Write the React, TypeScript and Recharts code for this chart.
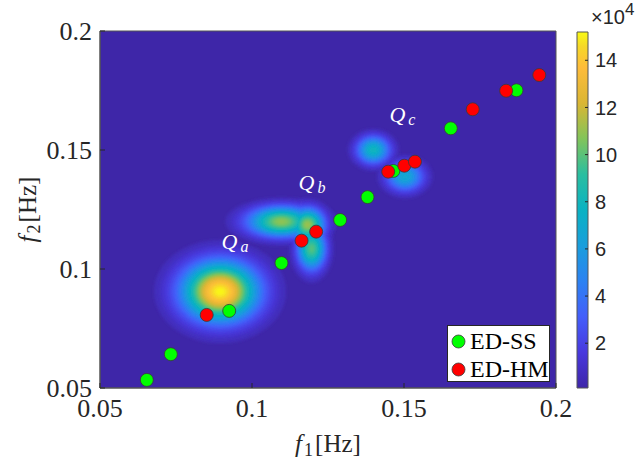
import React from 'react'
import { ScatterChart, ComposedChart, Scatter, XAxis, YAxis, ReferenceArea, Legend, Label } from 'recharts'

// axis ticks
const xTicks = [0.05, 0.1, 0.15, 0.2]
const yTicks = [0.05, 0.1, 0.15, 0.2]
const barTicks = [2, 4, 6, 8, 10, 12, 14]
const barRange = [0.1, 15.2] // colour scale, x10^4

// identified modes
const edSS = [
  { x: 0.0654, y: 0.0534 },
  { x: 0.0733, y: 0.0642 },
  { x: 0.0925, y: 0.0824 },
  { x: 0.1097, y: 0.1025 },
  { x: 0.129, y: 0.1206 },
  { x: 0.138, y: 0.1302 },
  { x: 0.1465, y: 0.1412 },
  { x: 0.1654, y: 0.1591 },
  { x: 0.187, y: 0.1751 },
]
const edHM = [
  { x: 0.0851, y: 0.0807 },
  { x: 0.1163, y: 0.1119 },
  { x: 0.1211, y: 0.1157 },
  { x: 0.1448, y: 0.1409 },
  { x: 0.1501, y: 0.1434 },
  { x: 0.1536, y: 0.1451 },
  { x: 0.1726, y: 0.1671 },
  { x: 0.1836, y: 0.1749 },
  { x: 0.1945, y: 0.1815 },
]

// background intensity peaks (centre, spread, peak value x10^4)
const peaks = [
  { x: 0.0895, y: 0.0905, sx: 0.0083, sy: 0.0083, peak: 15.2 },
  { x: 0.1097, y: 0.1199, sx: 0.0074, sy: 0.0041, peak: 11 },
  { x: 0.1183, y: 0.1186, sx: 0.0036, sy: 0.0045, peak: 11.2 },
  { x: 0.1196, y: 0.1085, sx: 0.003, sy: 0.0059, peak: 10 },
  { x: 0.1399, y: 0.15, sx: 0.0036, sy: 0.0038, peak: 8 },
  { x: 0.1503, y: 0.1388, sx: 0.004, sy: 0.004, peak: 7 },
]

const modeLabels = [
  { x: 0.09, y: 0.1084, sub: 'a' },
  { x: 0.1153, y: 0.1332, sub: 'b' },
  { x: 0.1452, y: 0.1618, sub: 'c' },
]

const legendOrder = ['ED-SS', 'ED-HM']

const SERIF = '"Liberation Serif", "Times New Roman", serif'
const SANS = '"Liberation Sans", Arial, sans-serif'
const INK = '#262626'

const PLOT_W = 456
const PLOT_H = 357
const PX_X = PLOT_W / (xTicks[3] - xTicks[0])
const PX_Y = PLOT_H / (yTicks[3] - yTicks[0])

const PARULA: [number, number[]][] = [
  [0, [62, 38, 168]],
  [0.1, [72, 56, 222]],
  [0.2, [68, 94, 250]],
  [0.3, [44, 130, 242]],
  [0.4, [25, 158, 220]],
  [0.5, [10, 178, 195]],
  [0.6, [42, 190, 160]],
  [0.7, [130, 196, 90]],
  [0.8, [218, 182, 52]],
  [0.9, [254, 188, 58]],
  [0.96, [246, 216, 40]],
  [1, [249, 251, 21]],
]

function parula(t: number) {
  const v = Math.max(0, Math.min(1, t))
  for (let i = 1; i < PARULA.length; i++) {
    const [t1, c1] = PARULA[i]
    const [t0, c0] = PARULA[i - 1]
    if (v <= t1) {
      const f = (v - t0) / (t1 - t0)
      const c = c0.map((a, k) => Math.round(a + (c1[k] - a) * f))
      return `rgb(${c[0]},${c[1]},${c[2]})`
    }
  }
  return 'rgb(249,251,21)'
}

const toT = (v: number) => (v - barRange[0]) / (barRange[1] - barRange[0])

// contour levels of the intensity map, drawn low to high
const STEP = 0.4
const levels: number[] = []
for (let l = 0.5; l < barRange[1]; l += STEP) levels.push(l)

const heatCells = levels.flatMap((level) =>
  peaks.filter((p) => p.peak > level).map((p) => ({ ...p, level }))
)

const HeatShape = (props: any) => {
  const { cx, cy, payload } = props
  const k = Math.sqrt(2 * Math.log(payload.peak / payload.level))
  const rx = payload.sx * PX_X * k
  const ry = payload.sy * PX_Y * k
  const c = parula(toT(Math.min(payload.level + STEP / 2, payload.peak)))
  return <ellipse cx={cx} cy={cy} rx={rx} ry={ry} fill={c} filter="url(#soften)" />
}

const Dot = (props: any) => (
  <circle cx={props.cx} cy={props.cy} r={6.5} fill={props.fill} stroke="#3a3a3a" strokeWidth={0.8} />
)

const ModeLabel = (props: any) => (
  <text x={props.cx} y={props.cy} fill="#ffffff" fontFamily={SERIF} fontStyle="italic" fontSize={22}>
    Q
    <tspan fontSize={16} dx={3} dy={3}>
      {props.payload.sub}
    </tspan>
  </text>
)

const XTick = (props: any) => {
  const { x, y, payload } = props
  return (
    <g>
      <line x1={x} x2={x} y1={y - 11} y2={y - 16} stroke={INK} />
      <text x={x} y={y} dy="0.71em" textAnchor="middle" fill={INK} fontFamily={SERIF} fontSize={26}>
        {payload.value}
      </text>
    </g>
  )
}

const YTick = (props: any) => {
  const { x, y, payload } = props
  return (
    <g>
      <line x1={x + 8} x2={x + 13} y1={y} y2={y} stroke={INK} />
      <text x={x} y={y} dy="0.355em" textAnchor="end" fill={INK} fontFamily={SERIF} fontSize={26}>
        {payload.value}
      </text>
    </g>
  )
}

const BarTick = (props: any) => {
  const { x, y, payload } = props
  return (
    <g>
      <line x1={x - 7} x2={x - 10} y1={y} y2={y} stroke={INK} />
      <text x={x} y={y} dy="0.355em" fill={INK} fontFamily={SANS} fontSize={20}>
        {payload.value}
      </text>
    </g>
  )
}

const XTitle = ({ viewBox }: any) => (
  <text x={viewBox.x + viewBox.width / 2} y={viewBox.y + 64} textAnchor="middle" fill={INK} fontFamily={SERIF} fontSize={25}>
    <tspan fontStyle="italic">f</tspan>
    <tspan fontSize={18} dx={2} dy={4}>1</tspan>
    <tspan dx={2} dy={-4}>[Hz]</tspan>
  </text>
)

const YTitle = ({ viewBox }: any) => {
  const x = viewBox.x - 4
  const y = viewBox.y + viewBox.height / 2
  return (
    <text x={x} y={y} transform={`rotate(-90, ${x}, ${y})`} textAnchor="middle" fill={INK} fontFamily={SERIF} fontSize={25}>
      <tspan fontStyle="italic">f</tspan>
      <tspan fontSize={18} dx={2} dy={4}>2</tspan>
      <tspan dx={2} dy={-4}>[Hz]</tspan>
    </text>
  )
}

const BarTitle = ({ viewBox }: any) => (
  <text x={viewBox.x + 3} y={viewBox.y - 8} fill={INK} fontFamily={SANS} fontSize={20}>
    ×10
    <tspan fontSize={17} dy={-9}>4</tspan>
  </text>
)

const LegendBox = ({ payload }: any) => {
  const items = legendOrder
    .map((name) => (payload || []).find((p: any) => p.value === name))
    .filter(Boolean)
  return (
    <div
      style={{
        width: 101,
        height: 55,
        background: '#fff',
        border: `1px solid ${INK}`,
        position: 'relative',
      }}
    >
      {items.map((it: any, i: number) => (
        <div key={it.value} style={{ position: 'absolute', left: 3, top: 5 + i * 28, height: 20, display: 'flex', alignItems: 'center' }}>
          <svg width={15} height={15}>
            <circle cx={7.5} cy={7.5} r={6.5} fill={it.color} stroke="#3a3a3a" strokeWidth={0.8} />
          </svg>
          <span style={{ marginLeft: 4, fontFamily: SERIF, fontSize: 24, color: '#000', lineHeight: '20px' }}>{it.value}</span>
        </div>
      ))}
    </div>
  )
}

export default function App() {
  return (
    <div style={{ position: 'relative', width: 640, height: 466, background: '#fff' }}>
      <style>{'body{margin:0}'}</style>
      <svg width={0} height={0} style={{ position: 'absolute' }}>
        <defs>
          <filter id="soften" x="-1" y="-1" width="3" height="3">
            <feGaussianBlur stdDeviation="1.8" />
          </filter>
          <linearGradient id="parulaBar" x1="0" y1="1" x2="0" y2="0">
            {PARULA.map(([t]) => (
              <stop key={t} offset={t} stopColor={parula(t)} />
            ))}
          </linearGradient>
        </defs>
      </svg>

      <div style={{ position: 'absolute', left: 0, top: 0 }}>
        <ScatterChart width={640} height={466} margin={{ top: 31, right: 84, bottom: 28, left: 40 }}>
          <XAxis
            type="number"
            dataKey="x"
            domain={[0.05, 0.2]}
            ticks={xTicks}
            allowDataOverflow
            height={50}
            tickSize={0}
            tickMargin={11}
            tick={<XTick />}
            axisLine={{ stroke: '#555' }}
          >
            <Label content={<XTitle />} />
          </XAxis>
          <YAxis
            type="number"
            dataKey="y"
            domain={[0.05, 0.2]}
            ticks={yTicks}
            allowDataOverflow
            width={60}
            tickSize={0}
            tickMargin={8}
            tick={<YTick />}
            axisLine={{ stroke: '#555' }}
          >
            <Label content={<YTitle />} />
          </YAxis>
          <ReferenceArea x1={0.05} x2={0.2} y1={0.05} y2={0.2} fill={parula(0)} fillOpacity={1} stroke="none" />
          <Scatter data={heatCells} shape={<HeatShape />} isAnimationActive={false} legendType="none" />
          <Scatter name="ED-SS" data={edSS} fill="#00ff00" shape={<Dot />} isAnimationActive={false} />
          <Scatter name="ED-HM" data={edHM} fill="#ff0000" shape={<Dot />} isAnimationActive={false} />
          <Scatter data={modeLabels} shape={<ModeLabel />} isAnimationActive={false} legendType="none" />
          <ReferenceArea x1={0.05} x2={0.2} y1={0.05} y2={0.2} fill="none" stroke="#555" strokeWidth={1} />
          <Legend
            layout="vertical"
            align="center"
            verticalAlign="middle"
            content={<LegendBox />}
            wrapperStyle={{ left: 447, top: 325, width: 103, height: 57 }}
          />
        </ScatterChart>
      </div>

      <div style={{ position: 'absolute', left: 570, top: 0 }}>
        <ComposedChart
          width={70}
          height={466}
          data={barRange.map((v) => ({ v }))}
          margin={{ top: 32, right: 2, bottom: 78, left: 7 }}
        >
          <XAxis type="number" domain={[0, 1]} allowDataOverflow hide />
          <YAxis
            type="number"
            dataKey="v"
            orientation="right"
            domain={barRange}
            ticks={barTicks}
            allowDataOverflow
            width={50}
            tickSize={0}
            tickMargin={7}
            tick={<BarTick />}
            axisLine={false}
          >
            <Label content={<BarTitle />} />
          </YAxis>
          <ReferenceArea
            x1={0}
            x2={1}
            y1={barRange[0]}
            y2={barRange[1]}
            fill="url(#parulaBar)"
            fillOpacity={1}
            stroke="#555"
            ifOverflow="visible"
          />
        </ComposedChart>
      </div>
    </div>
  )
}
